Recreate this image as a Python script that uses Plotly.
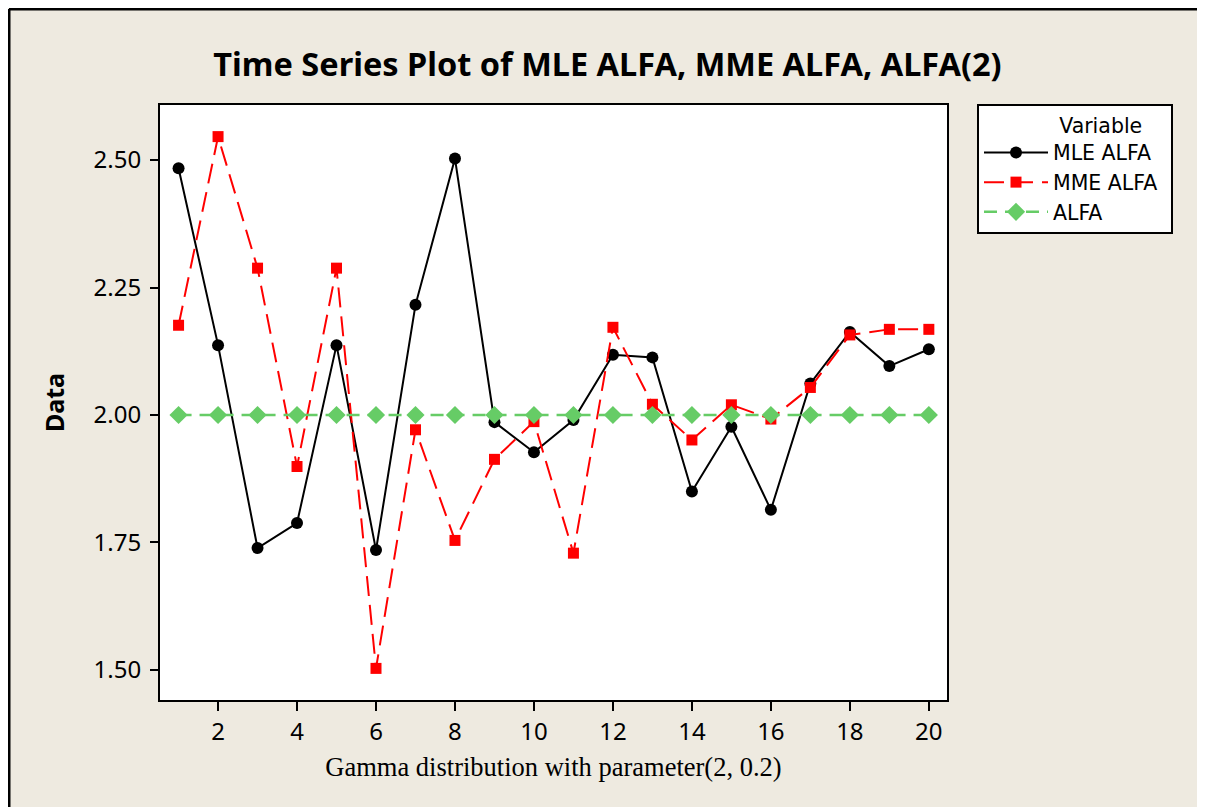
import plotly.graph_objects as go

# index 1..20 (sample number)
index = list(range(1, 21))

mle_alfa = [2.484, 2.137, 1.739, 1.788, 2.137, 1.735, 2.216, 2.503, 1.986, 1.927,
            1.990, 2.118, 2.113, 1.850, 1.977, 1.814, 2.062, 2.163, 2.096, 2.129]
mme_alfa = [2.176, 2.546, 2.288, 1.899, 2.288, 1.503, 1.971, 1.754, 1.913, 1.987,
            1.729, 2.172, 2.021, 1.951, 2.020, 1.992, 2.054, 2.157, 2.168, 2.168]
alfa = [2.0] * 20

y_ticks = [1.50, 1.75, 2.00, 2.25, 2.50]
x_ticks = [2, 4, 6, 8, 10, 12, 14, 16, 18, 20]

bg = "#EEEAE0"
tick_font = dict(family="Noto Sans, DejaVu Sans", size=24, color="black")

# page body has an 8px margin, so figure pixel = screen pixel - 8
L, T, PW, PH = 152, 97, 787, 595

fig = go.Figure()
fig.add_trace(go.Scatter(x=index, y=mle_alfa, name="MLE ALFA", mode="lines+markers",
                         line=dict(color="black", width=2),
                         marker=dict(symbol="circle", size=12, color="black")))
fig.add_trace(go.Scatter(x=index, y=mme_alfa, name="MME ALFA", mode="lines+markers",
                         line=dict(color="#FF0000", width=2, dash="20px,9px"),
                         marker=dict(symbol="square", size=11, color="#FF0000")))
fig.add_trace(go.Scatter(x=index, y=alfa, name="ALFA", mode="lines+markers",
                         line=dict(color="#66CC66", width=2.5, dash="13px,8px"),
                         marker=dict(symbol="diamond", size=14, color="#66CC66")))

# outer frame: only the top and left edges show in the picture
frame = dict(type="line", xref="paper", yref="paper", line=dict(color="black", width=3), layer="below")
left_x = (1 - L) / PW
top_y = (T + PH - 1) / PH

fig.update_layout(
    width=1205, height=807,
    paper_bgcolor=bg, plot_bgcolor="white",
    margin=dict(l=L, r=1205 - L - PW, t=T, b=807 - T - PH),
    title=dict(text="<b>Time Series Plot of MLE ALFA, MME ALFA, ALFA(2)</b>",
               x=599.5 / 1205, xanchor="center", y=1 - 57 / 807, yanchor="middle",
               font=dict(family="Noto Sans, DejaVu Sans", size=32.5, color="black")),
    xaxis=dict(range=[0.53, 20.46], tickvals=x_ticks, ticks="outside", ticklen=9, tickwidth=2,
               tickcolor="black", showline=True, linecolor="black", linewidth=2, mirror=True,
               showgrid=False, zeroline=False, tickfont=tick_font,
               title=dict(text="Gamma distribution with parameter(2, 0.2)", standoff=12,
                          font=dict(family="Liberation Serif, Times New Roman", size=26.5, color="black"))),
    yaxis=dict(range=[1.441, 2.608], tickvals=y_ticks, ticktext=[f"{v:.2f}" for v in y_ticks],
               ticks="outside", ticklen=8, tickwidth=2, tickcolor="black", ticklabelstandoff=4,
               showline=True, linecolor="black", linewidth=2, mirror=True,
               showgrid=False, zeroline=False, tickfont=tick_font,
               title=dict(text="<b>Data</b>", standoff=22,
                          font=dict(family="Noto Sans, DejaVu Sans", size=25, color="black"))),
    legend=dict(x=(969 - L) / PW, xanchor="left", y=(T + PH - 96) / PH, yanchor="top",
                bgcolor="white", bordercolor="black", borderwidth=2,
                font=dict(family="DejaVu Sans", size=20.5, color="black"),
                title=dict(text="\u00a0" * 12 + "Variable" + "\u00a0" * 4, side="top",
                           font=dict(family="DejaVu Sans", size=20.5, color="black")),
                itemwidth=64, tracegroupgap=0),
    showlegend=True,
    shapes=[
        dict(frame, x0=left_x, x1=(1300 - L) / PW, y0=top_y, y1=top_y),
        dict(frame, x0=left_x, x1=left_x, y0=top_y, y1=(T + PH - 900) / PH),
    ],
)

fig.write_html("out.html", post_script="document.body.style.overflow = 'hidden';")
